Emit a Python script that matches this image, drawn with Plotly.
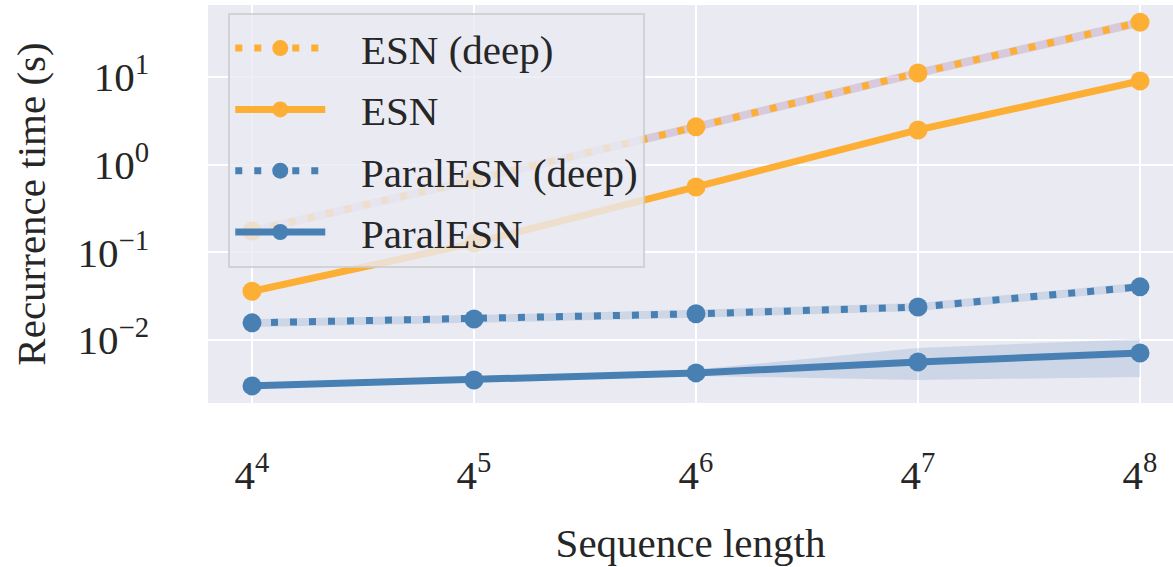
import plotly.graph_objects as go

seq_len = [256, 1024, 4096, 16384, 65536]
x_tick_text = ["4<sup>4</sup>", "4<sup>5</sup>", "4<sup>6</sup>", "4<sup>7</sup>", "4<sup>8</sup>"]
y_tick_vals = [0.01, 0.1, 1, 10]
y_tick_text = ["10<sup>−2</sup>", "10<sup>−1</sup>", "10<sup>0</sup>", "10<sup>1</sup>"]

esn_deep = [0.175, 0.67, 2.7, 11.1, 42]
esn_deep_lo = [0.157, 0.60, 2.42, 9.9, 37.5]
esn_deep_hi = [0.196, 0.75, 3.0, 12.4, 47]

esn = [0.036, 0.128, 0.557, 2.49, 9.0]
esn_lo = [0.034, 0.121, 0.53, 2.33, 8.5]
esn_hi = [0.038, 0.135, 0.59, 2.66, 9.5]

paral_deep = [0.0157, 0.0174, 0.0199, 0.0238, 0.0404]
paral_deep_lo = [0.0141, 0.0157, 0.0180, 0.0214, 0.0364]
paral_deep_hi = [0.0174, 0.0193, 0.0221, 0.0264, 0.0449]

paral = [0.0030, 0.00351, 0.00422, 0.00562, 0.00713]
paral_lo = [0.0029, 0.0034, 0.0039, 0.0035, 0.0038]
paral_hi = [0.0031, 0.0036, 0.0046, 0.0081, 0.0103]

ORANGE = "rgb(252,175,52)"
BLUE = "rgb(72,128,180)"
ORANGE_BAND = "rgba(176,130,165,0.30)"
BLUE_BAND = "rgba(72,128,180,0.18)"
FONT = "Liberation Serif, Times New Roman, serif"
TXT = "#262626"
PAD = "\u00a0\u00a0\u00a0"

fig = go.Figure()

def band(lo, hi, color):
    fig.add_trace(go.Scatter(x=seq_len, y=hi, mode="lines", line=dict(width=0, color=color),
                             showlegend=False, hoverinfo="skip"))
    fig.add_trace(go.Scatter(x=seq_len, y=lo, mode="lines", line=dict(width=0, color=color),
                             fill="tonexty", fillcolor=color, showlegend=False, hoverinfo="skip"))

band(esn_deep_lo, esn_deep_hi, ORANGE_BAND)
band(esn_lo, esn_hi, ORANGE_BAND)
band(paral_deep_lo, paral_deep_hi, BLUE_BAND)
band(paral_lo, paral_hi, BLUE_BAND)

series = [
    ("ESN (deep)", esn_deep, ORANGE, "7px,12px"),
    ("ESN", esn, ORANGE, "solid"),
    ("ParalESN (deep)", paral_deep, BLUE, "7px,12px"),
    ("ParalESN", paral, BLUE, "solid"),
]
for i, (name, vals, color, dash) in enumerate(series):
    fig.add_trace(go.Scatter(
        x=seq_len, y=vals, name=PAD + name, mode="lines+markers",
        line=dict(color=color, width=7, dash=dash),
        marker=dict(color=color, size=19, line=dict(width=0)),
        legendgroup=str(i), legendrank=i,
    ))

fig.update_layout(
    width=1173, height=567,
    margin=dict(l=208, r=0, t=5, b=164),
    paper_bgcolor="white", plot_bgcolor="#EAEAF2",
    font=dict(family=FONT, size=41, color=TXT),
    showlegend=True,
    legend=dict(
        x=0.021, y=0.98, xanchor="left", yanchor="top",
        bgcolor="rgba(234,234,242,0.8)", bordercolor="rgba(204,204,204,0.8)", borderwidth=2,
        font=dict(family=FONT, size=41, color=TXT),
        itemwidth=90, tracegroupgap=5, traceorder="grouped",
    ),
    xaxis=dict(
        type="log", range=[2.2889, 4.906], automargin=False,
        tickvals=seq_len, ticktext=x_tick_text,
        showgrid=True, gridcolor="white", gridwidth=2, zeroline=False,
        ticks="", ticklabelstandoff=44,
        title=dict(text="Sequence length", standoff=31, font=dict(size=41)),
        showline=False,
    ),
    yaxis=dict(
        type="log", range=[-2.718, 1.821], automargin=False,
        tickvals=y_tick_vals, ticktext=y_tick_text,
        showgrid=True, gridcolor="white", gridwidth=2, zeroline=False,
        ticks="", ticklabelstandoff=58,
        title=dict(text="Recurrence time (s)", standoff=19, font=dict(size=41)),
        showline=False,
    ),
)

fig.write_html("out.html", post_script="document.body.style.margin='0px';",
               config={"displayModeBar": False})
